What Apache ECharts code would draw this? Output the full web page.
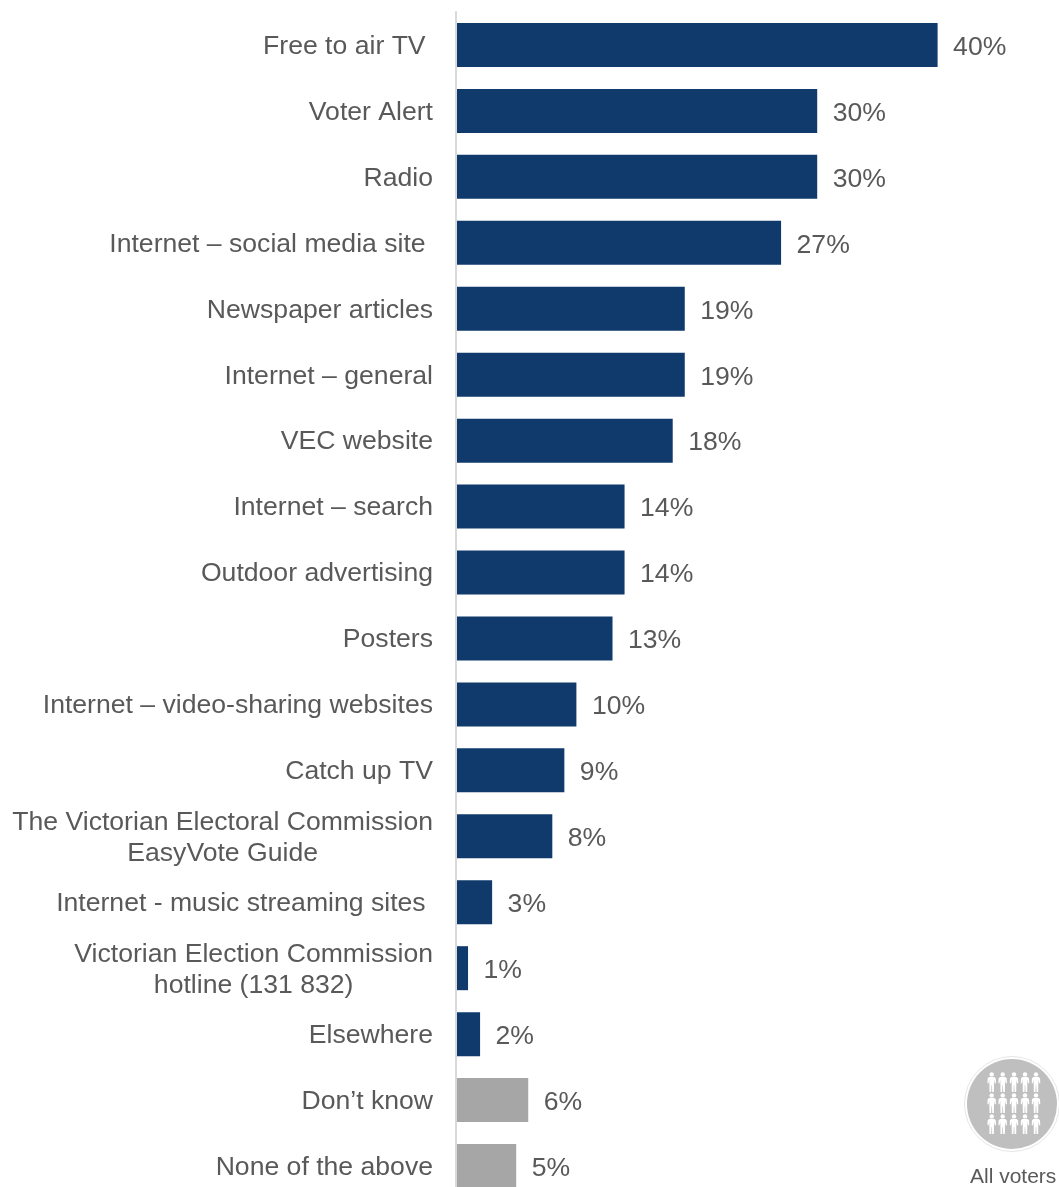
<!DOCTYPE html>
<html>
<head>
<meta charset="utf-8">
<style>html,body{margin:0;padding:0;background:#fff}#chart{width:1059px;height:1187px}</style>
<script src="https://cdn.jsdelivr.net/npm/echarts@6/dist/echarts.min.js"></script>
</head>
<body>
<div id="chart"></div>
<script>
const categories = [
  'Free to air TV ', 'Voter Alert', 'Radio', 'Internet – social media site ',
  'Newspaper articles', 'Internet – general', 'VEC website', 'Internet – search',
  'Outdoor advertising', 'Posters', 'Internet – video-sharing websites', 'Catch up TV',
  'The Victorian Electoral Commission\nEasyVote Guide', 'Internet - music streaming sites ',
  'Victorian Election Commission\nhotline (131 832)', 'Elsewhere', 'Don’t know', 'None of the above'
];
const shares = [40, 30, 30, 27, 19, 19, 18, 14, 14, 13, 10, 9, 8, 3, 1, 2, 6, 5];
const neutralCategories = ['Don’t know', 'None of the above'];

const NAVY = '#103a6b', GREY = '#a6a6a6', TEXT = '#595959';
const FONT = '"Liberation Sans", Arial, sans-serif';

// Outline of one figure in the "all voters" badge, relative to its centre
const figureOutline = [
  [-2.6, -5], [2.6, -5], [4, -3.8], [4.3, 1.2], [3.1, 1.2], [2.5, -2.4], [2.3, 2.4], [2.2, 10],
  [0.5, 10], [0.2, 3], [-0.2, 3], [-0.5, 10], [-2.2, 10], [-2.3, 2.4], [-2.5, -2.4], [-3.1, 1.2],
  [-4.3, 1.2], [-4, -3.8]
];

function person(x, y) {
  return {
    type: 'group', x, y, silent: true,
    children: [
      { type: 'circle', shape: { cx: 0, cy: -7.6, r: 2.2 }, style: { fill: '#fff' } },
      { type: 'polygon', shape: { points: figureOutline }, style: { fill: '#fff' } }
    ]
  };
}

const badgeColumns = [991.7, 1002.7, 1014, 1025, 1036];
const badgeRows = [1082, 1103, 1124];
const figures = [];
badgeRows.forEach(y => badgeColumns.forEach(x => figures.push(person(x, y))));

const chart = echarts.init(document.getElementById('chart'), null, { renderer: 'canvas' });
chart.setOption({
  animation: false,
  backgroundColor: '#fff',
  grid: { left: 456, top: 12, width: 602, height: 1187, outerBoundsMode: 'none', containLabel: false },
  xAxis: { type: 'value', min: 0, max: 50, show: false },
  yAxis: {
    type: 'category',
    inverse: true,
    z: 3,
    data: categories,
    axisLine: { show: true, lineStyle: { color: '#d9d9d9', width: 2 } },
    axisTick: { show: false },
    axisLabel: {
      color: TEXT, fontFamily: FONT, fontSize: 26.6,
      margin: 23, align: 'right', interval: 0, padding: [3, 0, 0, 0],
      // Wrapped names are centred line by line inside their right-aligned block
      formatter: name => name.split('\n').map(line => `{line|${line}}`).join('\n'),
      rich: { line: { align: 'center', lineHeight: 31, fontFamily: FONT, fontSize: 26.6, color: TEXT } }
    }
  },
  series: [{
    type: 'bar',
    barWidth: 44,
    data: shares.map((value, i) => ({
      value,
      itemStyle: { color: neutralCategories.includes(categories[i]) ? GREY : NAVY }
    })),
    label: {
      show: true, position: 'right', distance: 15.5, offset: [0, 2.5],
      formatter: '{c}%', color: TEXT, fontFamily: FONT, fontSize: 26.6
    }
  }],
  graphic: [
    { type: 'circle', shape: { cx: 1012, cy: 1104, r: 47.5 }, silent: true,
      style: { fill: '#fff', stroke: '#e6e6e6', lineWidth: 1 } },
    { type: 'circle', shape: { cx: 1012, cy: 1104, r: 45 }, silent: true,
      style: { fill: '#bfbfbf' } },
    ...figures,
    { type: 'text', x: 970, y: 1177.5, silent: true,
      style: { text: 'All voters', fill: TEXT, font: '21px ' + FONT, textVerticalAlign: 'middle' } }
  ]
});
</script>
</body>
</html>
